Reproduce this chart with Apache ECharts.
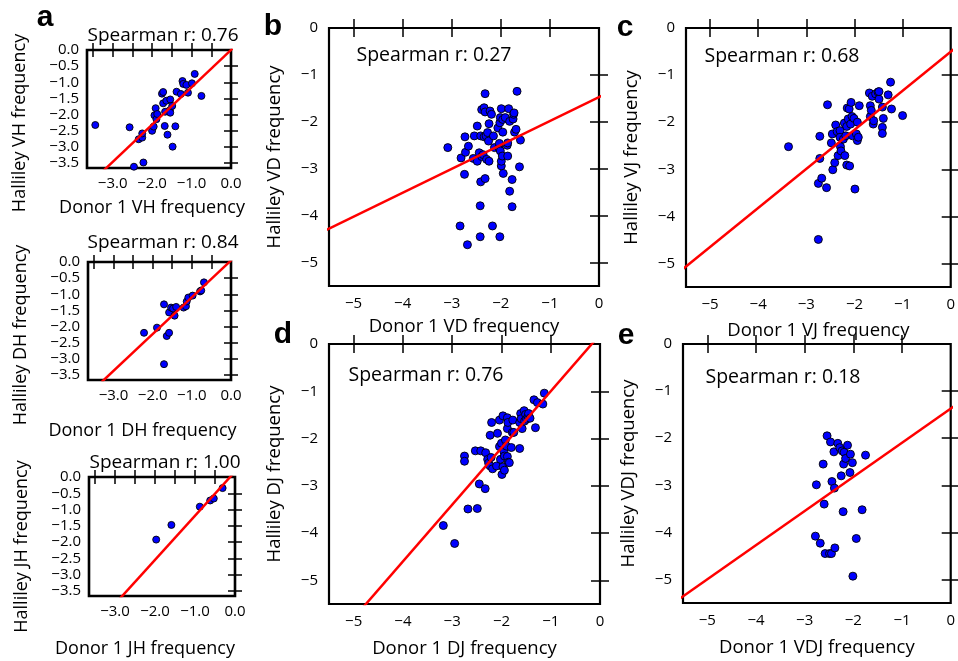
<!DOCTYPE html>
<html><head><meta charset="utf-8">
<script src="https://cdn.jsdelivr.net/npm/echarts@6/dist/echarts.min.js"></script>
<style>html,body{margin:0;padding:0;background:#fff}#c{width:958px;height:661px}</style>
</head><body><div id="c"></div>
<script>
// ---- data (log10 frequencies) ----
const vhPoints = [[-3.44,-2.32],[-2.57,-2.39],[-2.46,-3.61],[-2.22,-3.48],[-2.34,-2.76],[-2.25,-2.71],[-2.25,-2.58],[-2.0,-2.5],[-1.96,-2.37],[-1.94,-2.02],[-1.91,-1.80],[-1.89,-2.14],[-1.87,-1.98],[-1.75,-1.35],[-1.72,-1.30],[-1.72,-1.65],[-1.68,-2.35],[-1.67,-1.91],[-1.64,-1.57],[-1.61,-2.62],[-1.55,-1.86],[-1.54,-1.53],[-1.54,-1.94],[-1.49,-1.73],[-1.48,-2.99],[-1.41,-2.36],[-1.38,-1.29],[-1.27,-1.36],[-1.23,-0.96],[-1.21,-1.05],[-1.13,-1.08],[-1.09,-1.32],[-0.99,-1.03],[-0.92,-0.74],[-0.75,-1.42]];
const vhFit = [[-3.3,-3.81],[0.1,0.115]];
const dhPoints = [[-2.22,-2.19],[-1.89,-2.03],[-1.71,-1.31],[-1.71,-3.16],[-1.64,-2.29],[-1.58,-2.19],[-1.58,-1.56],[-1.53,-1.41],[-1.48,-1.44],[-1.44,-1.66],[-1.40,-1.39],[-1.21,-1.41],[-1.15,-1.37],[-1.13,-1.22],[-1.09,-1.10],[-0.98,-1.04],[-0.79,-0.91],[-0.76,-0.88],[-0.69,-0.63]];
const dhFit = [[-3.3,-3.71],[0.1,0.16]];
const jhPoints = [[-1.97,-1.92],[-1.59,-1.47],[-0.88,-0.91],[-0.62,-0.72],[-0.53,-0.66],[-0.31,-0.34]];
const jhFit = [[-2.9,-3.76],[0.1,0.30]];
const vdPoints = [[-3.08,-2.55],[-2.81,-2.77],[-2.73,-2.32],[-2.74,-3.12],[-2.72,-2.65],[-2.66,-2.52],[-2.83,-4.22],[-2.68,-4.62],[-2.56,-2.78],[-2.54,-2.30],[-2.48,-2.09],[-2.48,-2.84],[-2.44,-2.66],[-2.42,-3.79],[-2.42,-4.45],[-2.41,-3.28],[-2.41,-2.30],[-2.39,-2.74],[-2.39,-1.74],[-2.36,-2.70],[-2.34,-1.70],[-2.34,-2.32],[-2.32,-1.40],[-2.32,-1.79],[-2.32,-3.21],[-2.30,-2.30],[-2.29,-2.80],[-2.27,-2.23],[-2.25,-2.41],[-2.24,-2.04],[-2.24,-2.84],[-2.22,-1.77],[-2.19,-1.84],[-2.17,-4.22],[-2.15,-2.30],[-2.13,-2.55],[-2.06,-2.13],[-2.04,-2.55],[-2.03,-2.46],[-2.02,-2.02],[-2.02,-4.45],[-2.01,-1.91],[-2.01,-2.62],[-1.99,-1.72],[-1.99,-2.94],[-1.99,-2.84],[-1.97,-2.73],[-1.96,-2.22],[-1.96,-1.95],[-1.95,-3.10],[-1.91,-1.91],[-1.87,-2.50],[-1.86,-2.45],[-1.86,-2.73],[-1.84,-1.72],[-1.82,-1.99],[-1.82,-3.48],[-1.77,-3.81],[-1.77,-3.23],[-1.75,-1.94],[-1.74,-1.84],[-1.73,-1.81],[-1.72,-2.22],[-1.69,-2.16],[-1.67,-1.35],[-1.62,-2.96],[-1.60,-2.39]];
const vdFit = [[-5.6,-4.33],[0.1,-1.42]];
const vjPoints = [[-3.37,-2.52],[-2.75,-4.49],[-2.75,-3.30],[-2.72,-2.77],[-2.72,-2.30],[-2.68,-3.19],[-2.58,-3.39],[-2.56,-1.63],[-2.48,-2.44],[-2.46,-2.25],[-2.45,-3.01],[-2.41,-2.86],[-2.39,-2.06],[-2.36,-2.20],[-2.34,-2.71],[-2.30,-2.18],[-2.30,-2.32],[-2.29,-2.52],[-2.28,-2.61],[-2.23,-2.36],[-2.21,-2.02],[-2.20,-2.71],[-2.18,-2.29],[-2.16,-2.09],[-2.16,-2.91],[-2.15,-1.70],[-2.13,-1.93],[-2.11,-1.72],[-2.10,-2.93],[-2.08,-2.04],[-2.07,-1.58],[-2.05,-1.88],[-2.04,-2.29],[-2.01,-1.92],[-1.99,-3.42],[-1.96,-2.25],[-1.94,-2.00],[-1.94,-2.39],[-1.92,-2.32],[-1.90,-1.65],[-1.69,-1.38],[-1.67,-1.65],[-1.67,-1.88],[-1.65,-1.75],[-1.63,-1.45],[-1.61,-2.04],[-1.60,-1.97],[-1.56,-1.40],[-1.51,-1.36],[-1.49,-1.51],[-1.49,-1.35],[-1.42,-1.68],[-1.42,-2.11],[-1.42,-2.24],[-1.40,-1.92],[-1.30,-1.42],[-1.25,-1.15],[-1.23,-1.72],[-1.00,-1.86]];
const vjFit = [[-5.6,-5.15],[0.1,-0.42]];
const djPoints = [[-3.18,-3.84],[-2.95,-4.22],[-2.75,-2.37],[-2.75,-2.48],[-2.68,-3.49],[-2.53,-2.26],[-2.49,-3.48],[-2.45,-2.96],[-2.42,-2.26],[-2.33,-3.06],[-2.32,-2.30],[-2.28,-2.44],[-2.26,-2.52],[-2.23,-1.93],[-2.23,-2.58],[-2.21,-2.40],[-2.20,-1.66],[-2.18,-2.64],[-2.08,-1.89],[-2.10,-2.58],[-2.04,-1.61],[-2.04,-2.17],[-2.02,-2.44],[-2.00,-2.10],[-1.99,-2.76],[-1.97,-2.60],[-1.97,-1.52],[-1.95,-2.28],[-1.94,-2.37],[-1.94,-2.67],[-1.92,-2.03],[-1.90,-2.16],[-1.88,-1.56],[-1.88,-1.79],[-1.88,-2.38],[-1.87,-1.66],[-1.86,-2.50],[-1.84,-2.51],[-1.80,-2.19],[-1.78,-1.87],[-1.77,-1.61],[-1.75,-1.87],[-1.63,-2.21],[-1.63,-1.66],[-1.61,-1.47],[-1.60,-1.58],[-1.58,-1.79],[-1.54,-1.41],[-1.53,-1.63],[-1.51,-1.49],[-1.49,-1.59],[-1.46,-1.53],[-1.45,-1.47],[-1.42,-1.57],[-1.34,-1.18],[-1.31,-1.77],[-1.27,-1.24],[-1.16,-1.27],[-1.13,-1.04]];
const djFit = [[-4.9,-5.68],[0.1,0.32]];
const vdjPoints = [[-2.78,-4.08],[-2.76,-2.99],[-2.68,-4.23],[-2.62,-2.55],[-2.60,-3.40],[-2.58,-4.45],[-2.54,-1.95],[-2.49,-4.45],[-2.47,-2.08],[-2.45,-4.45],[-2.44,-2.92],[-2.40,-2.29],[-2.39,-3.06],[-2.38,-4.33],[-2.32,-2.11],[-2.28,-2.20],[-2.25,-2.80],[-2.23,-2.27],[-2.21,-3.56],[-2.20,-2.55],[-2.19,-2.30],[-2.16,-2.43],[-2.12,-2.15],[-2.07,-2.73],[-2.06,-2.34],[-2.02,-2.52],[-2.01,-4.93],[-1.94,-4.13],[-1.82,-3.52],[-1.75,-2.36]];
const vdjFit = [[-5.6,-5.43],[0.1,-1.30]];

const smallTicks = [-3.5,-3.0,-2.5,-2.0,-1.5,-1.0,-0.5];
const smallXLabels = [-3,-2,-1,0];
const smallYLabels = [0,-0.5,-1,-1.5,-2,-2.5,-3,-3.5];
const bigTicks = [-5,-4,-3,-2,-1];
const bigLabels = [-5,-4,-3,-2,-1,0];

// ---- layout ----
const FONT = '"Open Sans", "Noto Sans", sans-serif';
const panels = [
  {pts:vhPoints, fit:vhFit, xName:'Donor 1 VH frequency', yName:'Halliley VH frequency', r:'Spearman r: 0.76', small:true,
   grid:{left:87,top:50,width:144,height:118}, rPos:[163,36], xGap:31, xPad:[0,14,0,0], yPad:[0,28,0,0]},
  {pts:dhPoints, fit:dhFit, xName:'Donor 1 DH frequency', yName:'Halliley DH frequency', r:'Spearman r: 0.84', small:true,
   grid:{left:88,top:262,width:143,height:118}, rPos:[163,243], xGap:42, xPad:[0,34,0,0], yPad:[0,28,0,0]},
  {pts:jhPoints, fit:jhFit, xName:'Donor 1 JH frequency', yName:'Halliley JH frequency', r:'Spearman r: 1.00', small:true,
   grid:{left:89,top:477,width:146,height:119}, rPos:[165,463], xGap:44, xPad:[0,34,0,0], yPad:[0,20,0,0]},
  {pts:vdPoints, fit:vdFit, xName:'Donor 1 VD frequency', yName:'Halliley VD frequency', r:'Spearman r: 0.27', small:false,
   grid:{left:329,top:28,width:270,height:258}, rPos:[434,55], xGap:31},
  {pts:vjPoints, fit:vjFit, xName:'Donor 1 VJ frequency', yName:'Halliley VJ frequency', r:'Spearman r: 0.68', small:false,
   grid:{left:686,top:28,width:266,height:259}, rPos:[782,56], xGap:34},
  {pts:djPoints, fit:djFit, xName:'Donor 1 DJ frequency', yName:'Halliley DJ frequency', r:'Spearman r: 0.76', small:false,
   grid:{left:329,top:344,width:271,height:260}, rPos:[426,375], xGap:35},
  {pts:vdjPoints, fit:vdjFit, xName:'Donor 1 VDJ frequency', yName:'Halliley VDJ frequency', r:'Spearman r: 0.18', small:false,
   grid:{left:683,top:344,width:269,height:259}, rPos:[783,377], xGap:35}
];
const letters = [['a',45,18],['b',273,27],['c',625,28],['d',283,335],['e',626,336]];

function fmt(dec){ return v => (v < 0 ? '\u2212' : '') + Math.abs(v).toFixed(dec); }

const grids=[], xAxes=[], yAxes=[], series=[], graphics=[];
panels.forEach((p,i)=>{
  grids.push(Object.assign({show:true, borderColor:'#000', borderWidth:p.small?2.6:2.2, backgroundColor:'#fff'}, p.grid));
  const mn = p.small ? -3.65 : -5.5;
  const ticks = p.small ? smallTicks : bigTicks;
  const tl = p.small ? 7 : 9;
  const lblSize = 15;
  const nameSize = p.small ? 18 : 18.5;
  const common = {type:'value', gridIndex:i, min:mn, max:0, splitLine:{show:false},
    axisLine:{show:false},
    axisTick:{show:true, inside:true, length:tl, customValues:ticks, lineStyle:{color:'#000', width:1.5}}};
  xAxes.push(Object.assign({}, common, {position:'bottom',
    axisLabel:{customValues: p.small?smallXLabels:bigLabels, formatter: fmt(p.small?1:0), color:'#000', fontSize:lblSize, fontFamily:FONT, margin:p.small?8:10},
    name:p.xName, nameLocation:'middle', nameGap:p.xGap,
    nameTextStyle:{color:'#000', fontSize:nameSize, fontFamily:FONT, padding:p.xPad||0}}));
  xAxes.push(Object.assign({}, common, {position:'top', axisLabel:{show:false}}));
  yAxes.push(Object.assign({}, common, {position:'left',
    axisLabel:{customValues: p.small?smallYLabels:bigLabels, formatter: fmt(p.small?1:0), color:'#000', fontSize:lblSize, fontFamily:FONT, margin:p.small?8:11},
    name:p.yName, nameLocation:'middle', nameGap:p.small?58:45,
    nameTextStyle:{color:'#000', fontSize:nameSize, fontFamily:FONT, padding:p.yPad||0}}));
  yAxes.push(Object.assign({}, common, {position:'right', axisLabel:{show:false}}));
  series.push({type:'scatter', xAxisIndex:2*i, yAxisIndex:2*i, data:p.pts, symbolSize:p.small?7:8,
    itemStyle:{color:'#0000ff', borderColor:'#000', borderWidth:0.9, opacity:1}, z:3, silent:true});
  series.push({type:'line', xAxisIndex:2*i, yAxisIndex:2*i, data:p.fit, showSymbol:false, clip:true,
    lineStyle:{color:'#ff0000', width:2.5}, z:4, silent:true});
  graphics.push({type:'text', z:100, style:{text:p.r, x:p.rPos[0], y:p.rPos[1], align:'center', verticalAlign:'middle',
    textAlign:'center', textVerticalAlign:'middle', font:(p.small?'19px ':'19.5px ')+FONT, fill:'#000'}});
});
letters.forEach(l=>{
  graphics.push({type:'text', z:100, style:{text:l[0], x:l[1], y:l[2], align:'center', verticalAlign:'middle',
    textAlign:'center', textVerticalAlign:'middle', font:'bold 30px "Liberation Sans", Arial, sans-serif', fill:'#000'}});
});

const chart = echarts.init(document.getElementById('c'), null, {renderer:'canvas'});
chart.setOption({animation:false, backgroundColor:'#fff', grid:grids, xAxis:xAxes, yAxis:yAxes, series:series, graphic:graphics});
</script></body></html>
